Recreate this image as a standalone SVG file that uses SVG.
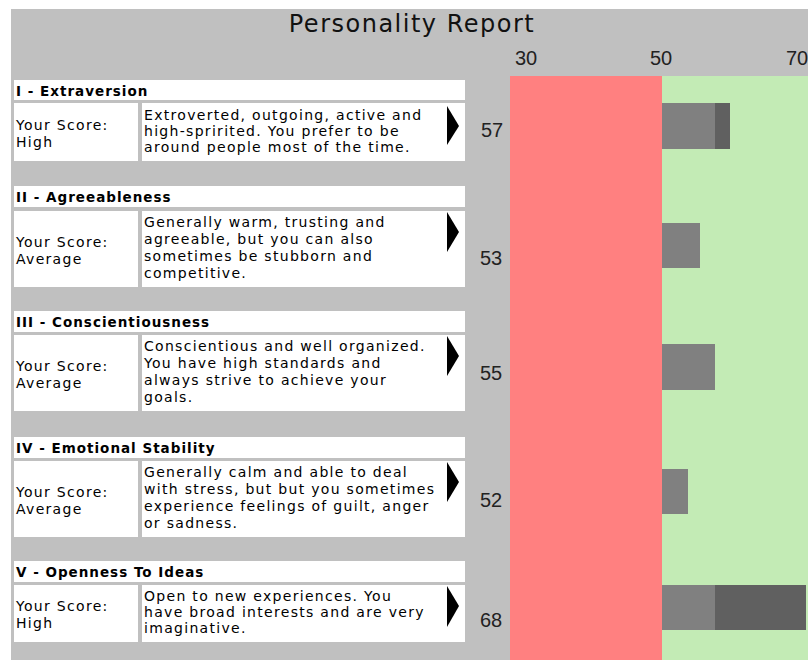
<svg xmlns="http://www.w3.org/2000/svg" width="808" height="660" viewBox="0 0 808 660">
<style>
.bg{fill:#c0c0c0}
.box{fill:#ffffff}
.hd{font-family:"DejaVu Sans",Verdana,sans-serif;font-weight:bold;font-size:13.5px;letter-spacing:1px;fill:#000}
.tx{font-family:"DejaVu Sans",Verdana,sans-serif;font-size:14px;letter-spacing:1.3px;fill:#000}
.num{font-family:"Liberation Sans",Arial,sans-serif;font-size:20px;fill:#222}
.ttl{font-family:"DejaVu Sans",Verdana,sans-serif;font-size:24px;letter-spacing:1.5px;fill:#111}
.arr{fill:#000}
.lt{fill:#808080}
.dk{fill:#606060}
</style>
<rect x="0" y="0" width="808" height="660" fill="#ffffff"/>
<rect class="bg" x="11" y="9" width="797" height="651"/>
<text class="ttl" x="412" y="32" text-anchor="middle">Personality Report</text>

<g id="chart">
  <rect x="510" y="76" width="152" height="584" fill="#ff8080"/>
  <rect x="662" y="76" width="146" height="584" fill="#c3ebb5"/>
  <text class="num" x="515" y="65">30</text>
  <text class="num" x="650" y="65">50</text>
  <text class="num" x="786" y="65">70</text>
  <rect class="lt" x="662" y="103" width="53" height="46"/>
  <rect class="dk" x="715" y="103" width="15" height="46"/>
  <rect class="lt" x="662" y="223" width="38" height="45"/>
  <rect class="lt" x="662" y="344" width="53" height="46"/>
  <rect class="lt" x="662" y="469" width="26" height="45"/>
  <rect class="lt" x="662" y="585" width="53" height="45"/>
  <rect class="dk" x="715" y="585" width="91" height="45"/>
</g>

<g id="extraversion">
  <rect class="box" x="14" y="80" width="451" height="20"/>
  <text class="hd" x="16" y="96">I - Extraversion</text>
  <rect class="box" x="14" y="103" width="124" height="58"/>
  <text class="tx" x="16" y="130">Your Score:</text>
  <text class="tx" x="16" y="147">High</text>
  <rect class="box" x="142" y="103" width="323" height="58"/>
  <text class="tx" x="144" y="120">Extroverted, outgoing, active and</text>
  <text class="tx" x="144" y="136">high-spririted. You prefer to be</text>
  <text class="tx" x="144" y="152">around people most of the time.</text>
  <polygon class="arr" points="447,106 459,126 447,145"/>
  <text class="num" x="481" y="137">57</text>
</g>

<g id="agreeableness">
  <rect class="box" x="14" y="186" width="451" height="21"/>
  <text class="hd" x="16" y="202">II - Agreeableness</text>
  <rect class="box" x="14" y="211" width="124" height="76"/>
  <text class="tx" x="16" y="247">Your Score:</text>
  <text class="tx" x="16" y="264">Average</text>
  <rect class="box" x="142" y="211" width="323" height="76"/>
  <text class="tx" x="144" y="227">Generally warm, trusting and</text>
  <text class="tx" x="144" y="244">agreeable, but you can also</text>
  <text class="tx" x="144" y="261">sometimes be stubborn and</text>
  <text class="tx" x="144" y="278">competitive.</text>
  <polygon class="arr" points="447,212 459,232 447,252"/>
  <text class="num" x="480" y="265">53</text>
</g>

<g id="conscientiousness">
  <rect class="box" x="14" y="311" width="451" height="21"/>
  <text class="hd" x="16" y="327">III - Conscientiousness</text>
  <rect class="box" x="14" y="335" width="124" height="76"/>
  <text class="tx" x="16" y="371">Your Score:</text>
  <text class="tx" x="16" y="388">Average</text>
  <rect class="box" x="142" y="335" width="323" height="76"/>
  <text class="tx" x="144" y="351">Conscientious and well organized.</text>
  <text class="tx" x="144" y="368">You have high standards and</text>
  <text class="tx" x="144" y="385">always strive to achieve your</text>
  <text class="tx" x="144" y="402">goals.</text>
  <polygon class="arr" points="447,336 459,356 447,376"/>
  <text class="num" x="480" y="380">55</text>
</g>

<g id="emotional-stability">
  <rect class="box" x="14" y="437" width="451" height="21"/>
  <text class="hd" x="16" y="453">IV - Emotional Stability</text>
  <rect class="box" x="14" y="461" width="124" height="76"/>
  <text class="tx" x="16" y="497">Your Score:</text>
  <text class="tx" x="16" y="514">Average</text>
  <rect class="box" x="142" y="461" width="323" height="76"/>
  <text class="tx" x="144" y="477">Generally calm and able to deal</text>
  <text class="tx" x="144" y="494">with stress, but but you sometimes</text>
  <text class="tx" x="144" y="511">experience feelings of guilt, anger</text>
  <text class="tx" x="144" y="528">or sadness.</text>
  <polygon class="arr" points="447,462 459,482 447,502"/>
  <text class="num" x="480" y="507">52</text>
</g>

<g id="openness">
  <rect class="box" x="14" y="561" width="451" height="21"/>
  <text class="hd" x="16" y="577">V - Openness To Ideas</text>
  <rect class="box" x="14" y="585" width="124" height="57"/>
  <text class="tx" x="16" y="611">Your Score:</text>
  <text class="tx" x="16" y="628">High</text>
  <rect class="box" x="142" y="585" width="323" height="57"/>
  <text class="tx" x="144" y="601">Open to new experiences. You</text>
  <text class="tx" x="144" y="617">have broad interests and are very</text>
  <text class="tx" x="144" y="633">imaginative.</text>
  <polygon class="arr" points="447,586 459,606 447,627"/>
  <text class="num" x="480" y="627">68</text>
</g>
</svg>
